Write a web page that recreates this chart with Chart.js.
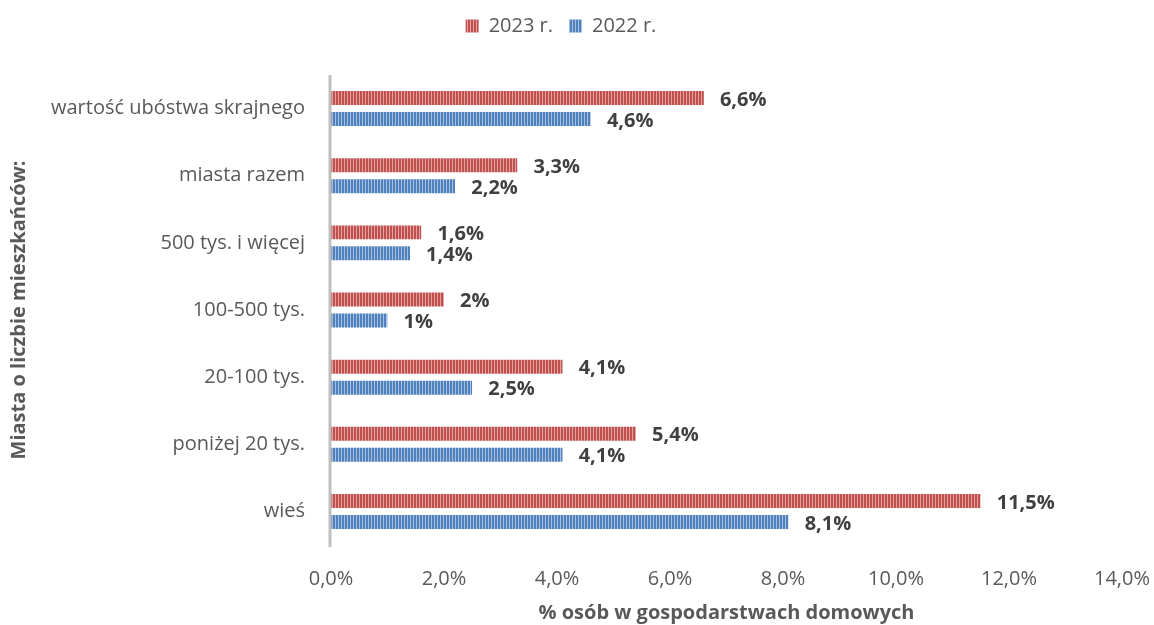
<!DOCTYPE html>
<html><head><meta charset="utf-8">
<script src="https://cdn.jsdelivr.net/npm/chart.js@4"></script>
<style>html,body{margin:0;padding:0;background:#fff}#wrap{width:1154px;height:625px}</style>
</head><body><div id="wrap"><canvas id="c" width="1154" height="625"></canvas></div>
<script>
const categories = ["wartość ubóstwa skrajnego","miasta razem","500 tys. i więcej","100-500 tys.","20-100 tys.","poniżej 20 tys.","wieś"];
const values2023 = [6.6,3.3,1.6,2,4.1,5.4,11.5];
const values2022 = [4.6,2.2,1.4,1,2.5,4.1,8.1];
const seriesNames = ["2023 r.","2022 r."];
const xTicks = [0,2,4,6,8,10,12,14];

function stripe(dark, light){
  const p = document.createElement('canvas'); p.width = 3; p.height = 4;
  const g = p.getContext('2d');
  g.fillStyle = dark; g.fillRect(0,0,3,4);
  g.fillStyle = light; g.fillRect(2,0,1,4);
  return document.getElementById('c').getContext('2d').createPattern(p,'repeat');
}
const redPat = stripe('#c0504d','#e3a3a1');
const bluePat = stripe('#4f81bd','#a7c0e0');
const fmt = v => (Number.isInteger(v) ? String(v) : v.toFixed(1).replace('.',','));
const FONT = "'Open Sans', sans-serif";
const FS = 20;

const labelPlugin = {
  id:'lbl',
  beforeLayout(chart){
    const lg = chart.legend;
    if (lg && !lg._patched){
      const f = lg.fit.bind(lg);
      lg.fit = function(){ f(); this.height = 75; };
      lg._patched = true;
    }
  },
  afterDatasetsDraw(chart){
    const ctx = chart.ctx;
    ctx.save();
    ctx.font = "bold " + FS + "px " + FONT;
    ctx.fillStyle = '#404040';
    ctx.textBaseline = 'middle';
    chart.data.datasets.forEach((ds,i)=>{
      chart.getDatasetMeta(i).data.forEach((bar,j)=>{
        ctx.fillText(fmt(ds.data[j]) + '%', bar.x + 16, bar.y + 2);
      });
    });
    ctx.restore();
  }
};
const axisLine = {
  id:'axl',
  afterDraw(chart){
    const a = chart.chartArea, ctx = chart.ctx;
    ctx.save(); ctx.strokeStyle = '#bfbfbf'; ctx.lineWidth = 3;
    ctx.beginPath(); ctx.moveTo(a.left-1, a.top); ctx.lineTo(a.left-1, a.bottom+2); ctx.stroke();
    ctx.restore();
  }
};
Chart.defaults.font.family = FONT;
new Chart(document.getElementById('c'), {
  type:'bar',
  data:{ labels: categories, datasets:[
    {label: seriesNames[0], data: values2023, backgroundColor: redPat, borderColor:'rgba(0,0,0,0)', borderWidth:{top:3.5,bottom:3.5,left:0,right:0}, borderSkipped:false, categoryPercentage:0.625, barPercentage:1},
    {label: seriesNames[1], data: values2022, backgroundColor: bluePat, borderColor:'rgba(0,0,0,0)', borderWidth:{top:3.5,bottom:3.5,left:0,right:0}, borderSkipped:false, categoryPercentage:0.625, barPercentage:1}
  ]},
  options:{
    indexAxis:'y', responsive:false, animation:false,
    layout:{padding:{top:0,right:32,left:0,bottom:0}},
    plugins:{
      legend:{ position:'top', labels:{ boxWidth:13, boxHeight:13, color:'#595959', font:{size:20}, padding:16 } },
      tooltip:{enabled:false}
    },
    scales:{
      x:{ min:0, max:14, afterBuildTicks(s){ s.ticks = xTicks.map(v=>({value:v})); },
        afterFit(s){ s.height = 80; s.paddingRight = 0; s.paddingLeft = 0; },
        grid:{display:false}, border:{display:false},
        ticks:{ color:'#595959', font:{size:FS}, padding:14, maxRotation:0, callback:v=>v.toFixed(1).replace('.',',')+'%' },
        title:{ display:true, text:'% osób w gospodarstwach domowych', color:'#595959', font:{size:FS, weight:'bold'}, padding:{top:0,bottom:0} } },
      y:{ grid:{display:false}, border:{display:false},
        afterFit(s){ s.width = 331; },
        ticks:{ color:'#595959', font:{size:FS}, padding:18 },
        title:{ display:true, text:'Miasta o liczbie mieszkańców:', color:'#595959', font:{size:FS, weight:'bold'}, padding:{top:7,bottom:0} } }
    }
  },
  plugins:[labelPlugin, axisLine]
});
</script></body></html>
